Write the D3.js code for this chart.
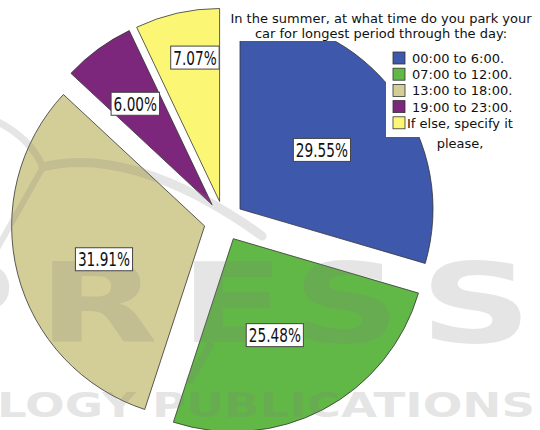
<!DOCTYPE html>
<html><head><meta charset="utf-8">
<script src="https://cdn.jsdelivr.net/npm/d3@7"></script>
<style>html,body{margin:0;padding:0;background:#fff;overflow:hidden}</style>
</head><body>
<svg id="chart" width="540" height="430"></svg>
<script>
// ---- data ----
const categories = ["00:00 to 6:00.", "07:00 to 12:00.", "13:00 to 18:00.", "19:00 to 23:00.", "If else, specify it please,"];
const legendLines = [["00:00 to 6:00."], ["07:00 to 12:00."], ["13:00 to 18:00."], ["19:00 to 23:00."], ["If else, specify it", "please,"]];
const percentages = [29.55, 25.48, 31.91, 6.00, 7.07];
const sliceColors = ["#3e58ac", "#62b846", "#d3ce97", "#7c277c", "#fbf775"];
const titleLines = ["In the summer, at what time do you park your", "car for longest period through the day:"];
const watermarkLetters = ["P", "R", "E", "S", "S"];
const watermarkLine = "LOGY PUBLICATIONS";

// ---- layout ----
const svg = d3.select("#chart");
const cx = 224, cy = 221, R = 193, explode = 20;
const labelR = [101, 105, 106, 127, 146];
const labelShiftDeg = [1, 4.5, -3.8, -1, 3];

const pie = d3.pie().sort(null).value(d => d);
const arcs = pie(percentages);
const arc = d3.arc().innerRadius(0).outerRadius(R);
const mid = d => (d.startAngle + d.endAngle) / 2;

const gPie = svg.append("g").attr("transform", `translate(${cx},${cy})`);
gPie.selectAll("path.slice").data(arcs).join("path")
  .attr("class", "slice")
  .attr("transform", d => `translate(${Math.sin(mid(d)) * explode},${-Math.cos(mid(d)) * explode})`)
  .attr("d", arc)
  .attr("fill", (d, i) => sliceColors[i])
  .attr("stroke", "#333")
  .attr("stroke-width", 0.8);

// ---- watermark (faint) ----
const wm = svg.append("g").attr("opacity", 0.2).attr("fill", "#808080");
const wmX = [-88, 38, 180, 293, 420], wmW = [103, 120, 105, 107, 112];
watermarkLetters.forEach((ch, i) => {
  wm.append("text").attr("x", wmX[i]).attr("y", 342)
    .attr("font-family", "DejaVu Sans").attr("font-weight", "bold").attr("font-size", 110)
    .attr("textLength", wmW[i]).attr("lengthAdjust", "spacingAndGlyphs").text(ch);
});
wm.append("text").attr("x", -3).attr("y", 417)
  .attr("font-family", "DejaVu Sans").attr("font-weight", "bold").attr("font-size", 34)
  .attr("textLength", 538).attr("lengthAdjust", "spacingAndGlyphs").text(watermarkLine);
const wmLines = wm.append("g").attr("fill", "none").attr("stroke", "#808080").attr("stroke-linecap", "round");
wmLines.append("path").attr("d", "M-2,122 Q30,138 43,167").attr("stroke-width", 7);
wmLines.append("path").attr("d", "M43,167 Q110,150 200,197 Q235,216 262,236").attr("stroke-width", 9);
wmLines.append("path").attr("d", "M43,167 L-2,247").attr("stroke-width", 6);
wmLines.append("path").attr("d", "M210,345 L190,380").attr("stroke-width", 8);

// ---- percentage labels ----
const gLab = svg.append("g");
arcs.forEach((d, i) => {
  const m = mid(d);
  const a = m + labelShiftDeg[i] * Math.PI / 180;
  const x = cx + Math.sin(m) * explode + Math.sin(a) * labelR[i];
  const y = cy - Math.cos(m) * explode - Math.cos(a) * labelR[i];
  const g = gLab.append("g").attr("transform", `translate(${x},${y})`);
  const rect = g.append("rect");
  const t = g.append("text")
    .attr("transform", "scale(0.72,1)")
    .attr("text-anchor", "middle").attr("y", 7)
    .attr("font-family", "DejaVu Sans").attr("font-size", 19).attr("fill", "#111")
    .text(d3.format(".2f")(percentages[i]) + "%");
  const w = t.node().getComputedTextLength() * 0.72;
  rect.attr("x", -w / 2 - 2.5).attr("y", -11.5).attr("width", w + 5).attr("height", 23)
    .attr("fill", "#fff").attr("stroke", "#444").attr("stroke-width", 1);
});

// ---- title & legend (white panels over the pie) ----
svg.append("rect").attr("x", 224).attr("y", 0).attr("width", 316).attr("height", 41).attr("fill", "#fff");
svg.append("rect").attr("x", 386).attr("y", 41).attr("width", 154).attr("height", 96).attr("fill", "#fff");
svg.selectAll("text.title").data(titleLines).join("text")
  .attr("class", "title")
  .attr("x", 381).attr("y", (d, i) => 23 + i * 15)
  .attr("text-anchor", "middle")
  .attr("font-family", "DejaVu Sans").attr("font-size", 13).attr("fill", "#111")
  .text(d => d);

const gLeg = svg.append("g");
legendLines.forEach((lines, i) => {
  const top = 52 + i * 16.2;
  gLeg.append("rect").attr("x", 393).attr("y", top).attr("width", 12).attr("height", 12)
    .attr("fill", sliceColors[i]).attr("stroke", "#333").attr("stroke-width", 0.8);
  lines.forEach((ln, j) => {
    const last = i === legendLines.length - 1;
    gLeg.append("text")
      .attr("x", j === 0 ? (last ? 407 : 412) : 460)
      .attr("y", top + 11 + j * 20)
      .attr("text-anchor", j === 0 ? "start" : "middle")
      .attr("font-family", "DejaVu Sans").attr("font-size", 13).attr("fill", "#111")
      .text(ln);
  });
});
</script>
</body></html>
